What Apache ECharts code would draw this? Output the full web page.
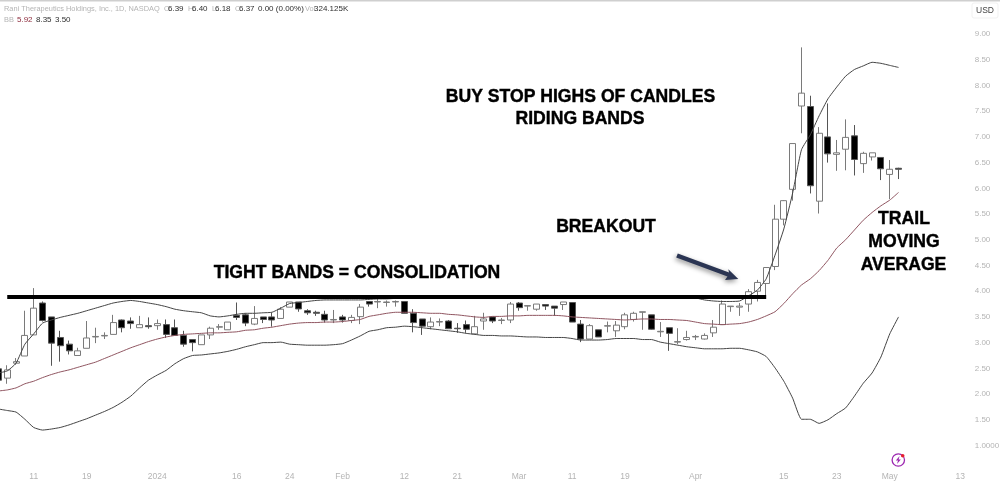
<!DOCTYPE html>
<html>
<head>
<meta charset="utf-8">
<style>html,body{margin:0;padding:0;background:#fff}#c{width:1000px;height:482px}</style>
<script src="https://cdn.jsdelivr.net/npm/echarts@6/dist/echarts.min.js"></script>
</head>
<body>
<div id="c"></div>
<script>
const tickIndex = [4,10,18,27,33,39,46,52,59,65,71,79,89,95,101,109];
const tickText = ['11','19','2024','16','24','Feb','12','21','Mar','11','19','Apr','15','23','May','13'];
const priceTicks = {min:1,max:9,step:0.5};
const resistance = 3.90;

const opens = [
2.49,2.31,2.60,2.74,3.15,3.77,3.50,3.10,2.97,2.75,
2.89,3.11,3.13,3.16,3.44,3.42,3.29,3.33,3.33,3.35,
3.29,3.14,3.06,2.96,3.15,3.30,3.25,3.53,3.54,3.36,
3.50,3.50,3.47,3.69,3.79,3.62,3.59,3.55,3.44,3.50,
3.43,3.505,3.80,3.79,3.78,3.79,3.80,3.57,3.46,3.31,
3.40,3.42,3.28,3.35,3.17,3.42,3.50,3.43,3.44,3.77,
3.71,3.65,3.74,3.71,3.74,3.78,3.36,3.07,3.25,3.32,
3.23,3.31,3.45,3.59,3.54,3.21,3.29,3.01,3.06,3.11,
3.07,3.19,3.35,3.70,3.69,3.75,4.00,4.15,4.48,5.40,
5.98,7.60,7.59,5.75,7.00,6.66,6.76,7.02,6.48,6.61,
6.60,6.27,6.39];
const closes = [
2.27,2.47,2.63,3.14,3.67,3.43,2.99,2.94,2.84,2.84,
3.09,3.12,3.14,3.39,3.29,3.37,3.35,3.31,3.37,3.16,
3.14,2.97,3.00,3.15,3.28,3.31,3.40,3.49,3.38,3.47,
3.45,3.44,3.65,3.79,3.655,3.58,3.57,3.44,3.45,3.44,
3.49,3.69,3.75,3.80,3.79,3.80,3.57,3.39,3.32,3.40,
3.41,3.27,3.27,3.26,3.31,3.46,3.42,3.44,3.75,3.68,
3.72,3.75,3.71,3.67,3.79,3.40,3.07,3.33,3.11,3.33,
3.34,3.54,3.57,3.60,3.26,3.22,3.18,3.02,3.10,3.12,
3.14,3.30,3.75,3.71,3.71,3.99,4.17,4.46,5.40,5.76,
6.87,7.85,6.05,7.07,6.67,6.69,6.99,6.56,6.68,6.69,
6.38,6.37,6.37];
const lows = [
2.25,2.20,2.57,2.74,3.15,3.41,2.55,2.63,2.77,2.75,
2.89,2.99,3.07,3.16,3.20,3.27,3.29,3.27,3.25,3.09,
3.14,2.92,2.83,2.96,3.07,3.25,3.25,3.44,3.32,3.34,
3.38,3.31,3.47,3.69,3.60,3.54,3.52,3.39,3.38,3.39,
3.38,3.36,3.70,3.67,3.70,3.70,3.57,3.20,3.15,3.26,
3.32,3.27,3.19,3.19,3.17,3.25,3.38,3.36,3.38,3.62,
3.62,3.62,3.635,3.52,3.635,3.40,3.01,3.07,3.11,3.20,
3.11,3.26,3.41,3.25,3.25,3.11,2.84,2.97,3.04,3.05,
3.06,3.11,3.35,3.60,3.52,3.60,3.80,3.86,4.41,5.28,
5.76,7.07,5.90,5.51,6.50,6.34,6.35,6.25,6.30,6.54,
6.16,5.79,6.18];
const highs = [
2.51,2.56,2.70,3.62,4.06,3.80,3.50,3.23,3.04,2.90,
3.42,3.29,3.20,3.54,3.45,3.49,3.52,3.49,3.45,3.45,
3.45,3.23,3.06,3.15,3.31,3.36,3.40,3.78,3.57,3.71,
3.50,3.58,3.69,3.79,3.79,3.65,3.62,3.62,3.635,3.54,
3.54,3.75,3.80,3.86,3.82,3.82,3.80,3.65,3.46,3.49,
3.47,3.44,3.38,3.43,3.52,3.58,3.50,3.48,3.79,3.79,
3.73,3.75,3.74,3.71,3.79,3.78,3.44,3.36,3.25,3.41,
3.42,3.58,3.60,3.60,3.54,3.40,3.29,3.28,3.23,3.15,
3.18,3.44,3.82,3.71,3.77,4.04,4.22,4.46,5.68,5.77,
6.87,8.74,7.80,7.19,7.65,6.94,7.34,7.23,6.71,6.69,
6.60,6.55,6.40];
const upperBand = [
2.41,2.45,2.60,2.97,3.17,3.38,3.44,3.49,3.53,3.57,
3.62,3.67,3.72,3.77,3.80,3.82,3.80,3.77,3.74,3.70,
3.65,3.62,3.60,3.58,3.52,3.50,3.52,3.55,3.57,3.57,
3.58,3.59,3.67,3.76,3.78,3.80,3.82,3.83,3.83,3.83,
3.83,3.83,3.84,3.85,3.85,3.86,3.86,3.87,3.88,3.88,
3.89,3.89,3.89,3.90,3.90,3.90,3.90,3.90,3.89,3.89,
3.90,3.90,3.90,3.90,3.89,3.89,3.90,3.90,3.90,3.90,
3.91,3.91,3.91,3.91,3.91,3.91,3.91,3.91,3.90,3.87,
3.83,3.81,3.80,3.80,3.81,3.91,4.02,4.24,4.70,5.21,
5.91,6.75,7.04,7.41,7.74,7.97,8.18,8.31,8.38,8.45,
8.43,8.39,8.35];
const basisBand = [
2.06,2.08,2.12,2.20,2.25,2.32,2.38,2.43,2.47,2.52,
2.57,2.62,2.69,2.76,2.83,2.90,2.96,3.02,3.07,3.11,
3.14,3.16,3.17,3.18,3.19,3.19,3.20,3.21,3.24,3.25,
3.28,3.30,3.33,3.36,3.38,3.39,3.39,3.40,3.40,3.41,
3.43,3.45,3.51,3.54,3.57,3.59,3.59,3.59,3.58,3.57,
3.57,3.55,3.54,3.52,3.50,3.49,3.51,3.51,3.52,3.52,
3.53,3.53,3.53,3.53,3.52,3.50,3.49,3.48,3.47,3.46,
3.45,3.44,3.45,3.46,3.46,3.45,3.45,3.44,3.43,3.40,
3.37,3.36,3.35,3.36,3.37,3.40,3.45,3.52,3.60,3.76,
3.95,4.12,4.24,4.40,4.60,4.84,5.00,5.19,5.38,5.53,
5.66,5.77,5.92];
const lowerBand = [
1.71,1.68,1.65,1.51,1.35,1.30,1.32,1.35,1.40,1.46,
1.52,1.59,1.66,1.74,1.84,1.96,2.12,2.27,2.37,2.46,
2.59,2.69,2.75,2.76,2.78,2.80,2.83,2.87,2.92,2.96,
3.00,3.00,3.01,2.97,2.96,2.95,2.95,2.95,2.96,2.98,
3.05,3.13,3.22,3.25,3.29,3.30,3.32,3.31,3.29,3.27,
3.25,3.23,3.21,3.18,3.16,3.14,3.14,3.13,3.13,3.12,
3.11,3.11,3.10,3.10,3.10,3.08,3.05,3.05,3.05,3.06,
3.08,3.08,3.08,3.06,3.06,3.01,2.98,2.95,2.92,2.90,
2.88,2.88,2.88,2.89,2.89,2.86,2.82,2.73,2.51,2.25,
1.92,1.51,1.51,1.43,1.50,1.62,1.73,1.96,2.21,2.41,
2.72,3.17,3.50];

const totalBars = 110;
const categories = Array.from({length: totalBars}, (_, i) => String(i));
const candles = opens.map((o, i) => [o, closes[i], lows[i], highs[i]]);
const annotations = [
  ['BUY STOP HIGHS OF CANDLES', 580.5, 97.5],
  ['RIDING BANDS', 580, 119.5],
  ['BREAKOUT', 606, 227.5],
  ['TIGHT BANDS = CONSOLIDATION', 357, 273.5],
  ['TRAIL', 904, 219.5],
  ['MOVING', 904, 242.5],
  ['AVERAGE', 903.5, 265.5]
];
const GREY = '#b4b4b4', DARK = '#2e2e2e', UI = '"Liberation Sans", Arial, sans-serif';
const headerBits = [
  ['Rani Therapeutics Holdings, Inc., 1D, NASDAQ', 4, 9, GREY, 7.4],
  ['O', 164, 9, GREY, 7.4], ['6.39', 168, 9, DARK, 8],
  ['H', 188, 9, GREY, 7.4], ['6.40', 192, 9, DARK, 8],
  ['L', 212, 9, GREY, 7.4], ['6.18', 215, 9, DARK, 8],
  ['C', 235, 9, GREY, 7.4], ['6.37', 239, 9, DARK, 8],
  ['0.00 (0.00%)', 258, 9, DARK, 8],
  ['Vol', 305, 9, GREY, 7.4], ['324.125K', 314, 9, DARK, 8],
  ['BB', 4, 20, GREY, 7.4], ['5.92', 17, 20, '#8d2b3c', 8], ['8.35', 36, 20, DARK, 8], ['3.50', 55, 20, DARK, 8]
];
const graphics = [
  {type:'rect', shape:{x:0,y:0,width:1000,height:1.5}, style:{fill:'#cfcfcf'}, silent:true, z:20},
  {type:'rect', shape:{x:972,y:3,width:26,height:15,r:2}, style:{fill:'#fff',stroke:'#f1f1f1'}, silent:true, z:20},
  {type:'text', x:985, y:10.5, z:21, silent:true, style:{text:'USD',font:'8.5px '+UI,fill:'#444',textAlign:'center',textVerticalAlign:'middle'}},
  {type:'polygon', z:20, silent:true,
    shape:{points:[[677.8,253.4],[729,272.5],[728.3,269.3],[738.3,279],[725,280],[727.5,276.5],[676.2,257.6]]},
    style:{fill:'#2b3553',shadowBlur:5,shadowColor:'rgba(0,0,0,0.45)',shadowOffsetX:-1,shadowOffsetY:2}},
  {type:'circle', z:20, silent:true, shape:{cx:898.3,cy:460,r:6.2}, style:{fill:'#fff',stroke:'#9c27b0',lineWidth:1.3}},
  {type:'polygon', z:21, silent:true, shape:{points:[[899.6,456],[895.8,460.6],[898,460.6],[897,464],[900.8,459.4],[898.6,459.4]]}, style:{fill:'#9c27b0'}},
  {type:'circle', z:22, silent:true, shape:{cx:902.7,cy:455.7,r:1.8}, style:{fill:'#e5202e'}}
];
headerBits.forEach(([t,x,y,c,s]) => graphics.push({type:'text',x,y,z:20,silent:true,
  style:{text:t,font:s+'px '+UI,fill:c,textVerticalAlign:'middle'}}));
annotations.forEach(([t,x,y]) => graphics.push({type:'text',x,y,z:20,silent:true,
  style:{text:t,font:'bold 17.6px "Liberation Sans", Arial, sans-serif',fill:'#000',stroke:'#000',lineWidth:0.4,textAlign:'center',textVerticalAlign:'middle'}}));

const chart = echarts.init(document.getElementById('c'), null, {renderer:'canvas'});
chart.setOption({
  animation:false,
  backgroundColor:'#fff',
  grid:{left:-6,top:34,right:35.25,bottom:36.5,containLabel:false,outerBoundsMode:'none'},
  xAxis:{type:'category',data:categories,boundaryGap:true,
    axisLine:{show:false},axisTick:{show:false},splitLine:{show:false},
    axisLabel:{margin:27,fontSize:8.5,color:GREY,fontFamily:UI,hideOverlap:false,
      interval:(i)=>tickIndex.includes(i),
      formatter:(v,i)=>{const k=tickIndex.indexOf(i);return k<0?'':tickText[k];}}},
  yAxis:{type:'value',position:'right',min:priceTicks.min,max:priceTicks.max,interval:priceTicks.step,
    axisLine:{show:false},axisTick:{show:false},splitLine:{show:false},
    axisLabel:{margin:10,fontSize:8,color:GREY,fontFamily:UI,showMinLabel:true,showMaxLabel:true,
      formatter:(v)=>v===1?'1.0000':v.toFixed(2)}},
  graphic:graphics,
  series:[
    {type:'candlestick',data:candles,barWidth:6.5,z:2,silent:true,
     itemStyle:{color:'#ffffff',color0:'#000000',borderColor:'#7a7a7a',borderColor0:'#555555',borderColorDoji:'#555555',borderWidth:1}},
    {type:'line',data:upperBand,showSymbol:false,symbol:'none',silent:true,z:3,smooth:0.15,lineStyle:{color:'#444',width:1}},
    {type:'line',data:basisBand,showSymbol:false,symbol:'none',silent:true,z:3,smooth:0.15,lineStyle:{color:'#8f5560',width:1}},
    {type:'line',data:lowerBand,showSymbol:false,symbol:'none',silent:true,z:3,smooth:0.15,lineStyle:{color:'#444',width:1},
     markLine:{silent:true,symbol:'none',label:{show:false},animation:false,
       lineStyle:{color:'#000',width:4,type:'solid'},
       data:[[{coord:[1,resistance]},{coord:[87,resistance]}]]}}
  ]
});
</script>
</body>
</html>
